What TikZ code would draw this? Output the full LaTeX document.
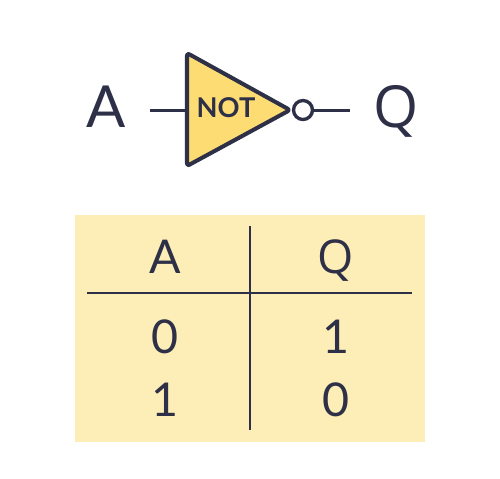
\documentclass[tikz,border=0pt]{standalone}
\usepackage{fontspec}
\setmainfont{Lato}
\newfontfamily\tailfont{Open Sans}
\usetikzlibrary{calc,positioning}
\definecolor{ink}{HTML}{2D3047}
\definecolor{gatefill}{HTML}{FDDC74}
\definecolor{tablefill}{HTML}{FDEDB6}
\tikzset{
	wire/.style={draw=ink, line width=1.7pt},
	gate/.style={draw=ink, fill=gatefill, line width=2.3pt, line join=round, rounded corners=1.5pt},
	rule/.style={draw=ink, line width=1.25pt},
	biglabel/.style={text=ink, font=\fontsize{33}{33}\selectfont, anchor=base, inner sep=0pt},
	celllabel/.style={text=ink, font=\fontsize{26.5}{26.5}\selectfont, anchor=base, inner sep=0pt},
}
\begin{document}
\begin{tikzpicture}[x=0.02cm, y=-0.02cm]
	\useasboundingbox (0,0) rectangle (500,478);
	% gate
	\coordinate (intop) at (187,53);
	\coordinate (inbottom) at (187,166);
	\coordinate (tip) at (290,110);
	\coordinate (inwire) at (150,110);
	\coordinate (gatein) at (187,110);
	\coordinate (outwire) at (350,110);
	\draw[wire] (inwire) -- (gatein);
	\draw[gate] (intop) -- (tip) -- (inbottom) -- cycle;
	\node[circle, draw=ink, fill=white, line width=1.9pt, minimum size=0.38cm, inner sep=0pt] (bubble) at (303,110) {};
	\draw[wire] (bubble) -- (outwire);
	\node[text=ink, font=\fontsize{15.5}{15.5}\selectfont\bfseries, anchor=base, inner sep=0pt] (gatelabel) at (226,117) {NOT};
	\node[biglabel] (inputA) at (106,127) {A};
	\node[biglabel] (outputQ) at (396,127) {\tailfont Q};
	% truth table
	\fill[tablefill] (75,215) rectangle (425,442);
	\coordinate (vtop) at (250,226);
	\coordinate (vbottom) at (250,430);
	\coordinate (hleft) at (87,293);
	\coordinate (hright) at (412,293);
	\draw[rule] (vtop) -- (vbottom);
	\draw[rule] (hleft) -- (hright);
	\node[celllabel] (headA) at (165,273) {A};
	\node[celllabel] (headQ) at (336,273) {\tailfont Q};
	\node[celllabel] (cellAa) at (165,353) {0};
	\node[celllabel] (cellQa) at (336,353) {1};
	\node[celllabel] (cellAb) at (165,416) {1};
	\node[celllabel] (cellQb) at (336,416) {0};
\end{tikzpicture}
\end{document}
